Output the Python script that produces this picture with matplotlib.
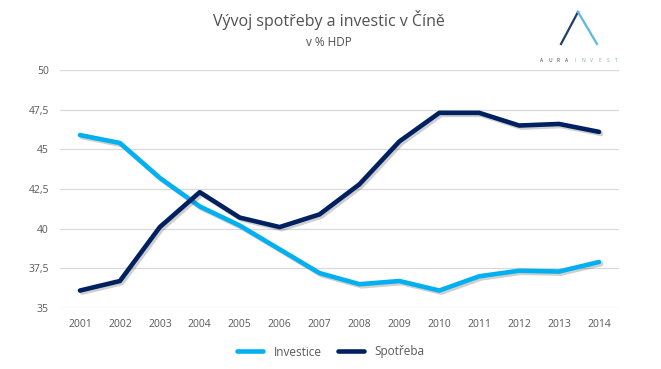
import numpy as np
import matplotlib.pyplot as plt
import matplotlib.patheffects as pe

years = ['2001', '2002', '2003', '2004', '2005', '2006', '2007',
         '2008', '2009', '2010', '2011', '2012', '2013', '2014']
investice = [45.9, 45.4, 43.2, 41.4, 40.2, 38.7, 37.2,
             36.5, 36.7, 36.1, 37.0, 37.35, 37.3, 37.9]
spotreba = [36.1, 36.7, 40.1, 42.3, 40.7, 40.1, 40.9,
            42.8, 45.5, 47.3, 47.3, 46.5, 46.6, 46.1]
yticks = [35, 37.5, 40, 42.5, 45, 47.5, 50]
ytick_labels = ['35', '37,5', '40', '42,5', '45', '47,5', '50']

light_blue = '#00b0f0'
navy = '#002060'
grey_txt = '#595959'

plt.rcParams['font.family'] = ['Open Sans', 'DejaVu Sans']

fig = plt.figure(figsize=(6.61, 3.69), dpi=100)
ax = fig.add_axes([60/661, 1 - 308/369, 559/661, 238/369])

x = np.arange(len(years))
shadow = [pe.SimpleLineShadow(offset=(1.5, -1.5), alpha=0.25, shadow_color='#404040'), pe.Normal()]
ax.plot(x, investice, color=light_blue, lw=3.3, solid_capstyle='round',
        solid_joinstyle='round', label='Investice', path_effects=shadow, zorder=3)
ax.plot(x, spotreba, color=navy, lw=3.3, solid_capstyle='round',
        solid_joinstyle='round', label='Spotřeba', path_effects=shadow, zorder=3)

ax.set_xlim(-0.5, 13.5)
ax.set_ylim(35, 50)
ax.set_xticks(x)
ax.set_xticklabels(years)
ax.set_yticks(yticks)
ax.set_yticklabels(ytick_labels)
ax.tick_params(length=0, labelsize=7.5, colors=grey_txt, pad=8)
ax.tick_params(axis='y', pad=8)
ax.grid(axis='y', color='#d9d9d9', lw=0.9)
ax.set_axisbelow(True)
for s in ax.spines.values():
    s.set_visible(False)

fig.text(329/661, 1 - 20/369, 'Vývoj spotřeby a investic v Číně', ha='center', va='center',
         fontsize=11.5, color='#505050')
fig.text(329/661, 1 - 42/369, 'v % HDP', ha='center', va='center',
         fontsize=8.5, color='#505050')

# logo
fig.lines.append(plt.Line2D([561/661, 578/661], [1 - 44/369, 1 - 12/369],
                            transform=fig.transFigure, color='#1f3f66', lw=1.6))
fig.lines.append(plt.Line2D([578/661, 597/661], [1 - 12/369, 1 - 44/369],
                            transform=fig.transFigure, color='#5bb8e0', lw=1.6))
letters = 'AURAINVEST'
for i, ch in enumerate(letters):
    fig.text((542 + i * 8.2) / 661, 1 - 61/369, ch, ha='center', va='center', fontsize=3.5,
             color='#1f3f66' if i < 4 else '#7fa6c4')

leg = fig.legend(loc='center', bbox_to_anchor=(331/661, 1 - 352/369), ncol=2, frameon=False,
                 fontsize=8.5, handlelength=2.2, handletextpad=0.9, columnspacing=1.4,
                 labelcolor=grey_txt)
for h in leg.get_lines():
    h.set_path_effects([])
    h.set_solid_capstyle('round')

fig.savefig('out.png', dpi=100)
